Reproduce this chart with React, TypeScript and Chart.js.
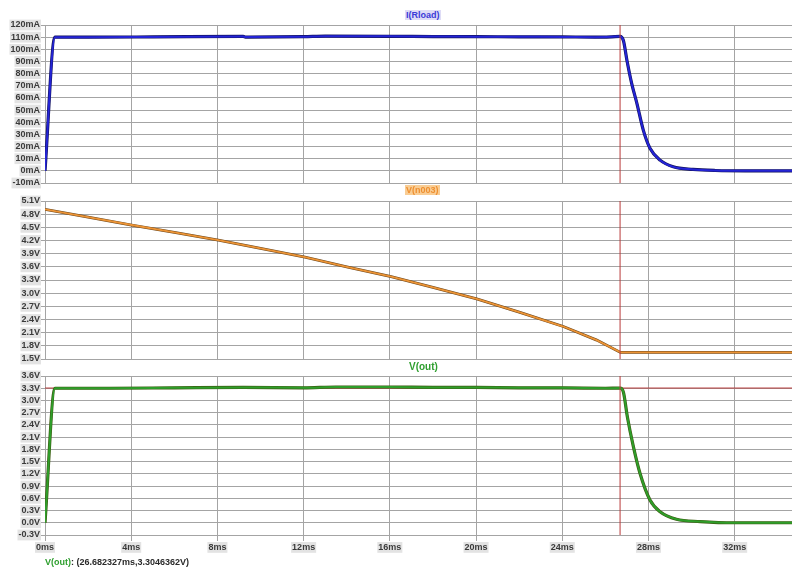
import React, { useEffect, useRef } from "react";
import { Chart, registerables } from "chart.js";
Chart.register(...registerables);

// ---------- data ----------
const X_MIN = 0;
const X_MAX = 34.66;
const X_STEP = 4;

const CURSOR_T = 26.682327;
const CURSOR_V = 3.3046362;

// I(Rload) in mA
const iTime = [0, 0.46, 2, 5, 9.2, 9.3, 12, 13, 16, 18, 20, 22, 24, 25.5, 26.3, 26.68, 26.84, 27.0, 27.22, 27.46, 27.76, 28.07, 28.54, 29.15, 30.07, 31.1, 32.5, 34.66];
const iRload = [0, 110, 110, 110.2, 110.6, 110.1, 110.4, 110.8, 110.7, 110.5, 110.4, 110.3, 110.2, 110, 110.3, 110.6, 107, 91, 72, 55.8, 33.5, 18.6, 8.8, 3.3, 1.2, 0.3, 0, 0];

// V(n003) in V
const n3Time = [0, 2, 4.02, 6, 8.04, 10, 12.06, 14, 16.06, 18, 20.03, 22, 24.05, 25.6, 26.7, 34.66];
const vN003 = [4.91, 4.73, 4.553, 4.385, 4.21, 4.02, 3.82, 3.6, 3.375, 3.13, 2.87, 2.57, 2.24, 1.93, 1.65, 1.65];

// V(out) in V
const outTime = [0, 0.46, 3, 6, 9.2, 12, 13.5, 16, 18, 20, 22, 24, 26, 26.68, 26.84, 27.02, 27.3, 27.61, 28.07, 28.54, 29.3, 30.4, 32, 34.66];
const vOut = [0, 3.3, 3.3, 3.31, 3.32, 3.31, 3.33, 3.33, 3.32, 3.32, 3.31, 3.31, 3.3, 3.305, 3.2, 2.6, 1.87, 1.21, 0.56, 0.27, 0.085, 0.03, 0, 0];

// axis ranges
const iAxis = { min: -10, max: 120, step: 10 };
const n3Axis = { min: 1.5, max: 5.1, step: 0.3 };
const outAxis = { min: -0.3, max: 3.6, step: 0.3 };

// ---------- styling ----------
const W = 792;
const H = 569;
const FONT = "'Liberation Sans', Arial, sans-serif";
const GRID = "#a4a4a4";
const LABEL_BG = "#e3e3e3";
const LABEL_COLOR = "#3a3a3a";
const CURSOR_COLOR = "#b83a3a";

const pts = (xs: number[], ys: number[]) => xs.map((x, i) => ({ x, y: ys[i] }));

function yScale(ax: { min: number; max: number; step: number }, fmt: (v: number) => string) {
  return {
    type: "linear" as const,
    min: ax.min,
    max: ax.max,
    afterFit: (s: any) => {
      s.width = 45;
    },
    grid: { color: GRID, lineWidth: 1, tickLength: 5, drawTicks: true },
    border: { display: true, color: GRID },
    ticks: {
      stepSize: ax.step,
      autoSkip: false,
      padding: 0,
      color: LABEL_COLOR,
      font: { family: FONT, size: 9, weight: "bold" as const },
      showLabelBackdrop: true,
      backdropColor: LABEL_BG,
      backdropPadding: { top: 0, bottom: 0, left: 1, right: 1 },
      callback: (v: any) => fmt(Number(v)),
    },
  };
}

function xScale(showLabels: boolean) {
  return {
    type: "linear" as const,
    min: X_MIN,
    max: X_MAX,
    afterFit: (s: any) => {
      s.height = showLabels ? 20 : 0;
    },
    grid: { color: GRID, lineWidth: 1, tickLength: 6, drawTicks: showLabels },
    border: { display: true, color: GRID },
    ticks: {
      display: showLabels,
      stepSize: X_STEP,
      includeBounds: false,
      autoSkip: false,
      maxRotation: 0,
      padding: 1,
      color: LABEL_COLOR,
      font: { family: FONT, size: 9, weight: "bold" as const },
      showLabelBackdrop: true,
      backdropColor: LABEL_BG,
      backdropPadding: { top: 0, bottom: 0, left: 1, right: 1 },
      callback: (v: any) => `${Math.round(Number(v))}ms`,
    },
  };
}

function line(data: any[], color: string, width: number, order: number, smooth = false) {
  return {
    data,
    borderColor: color,
    backgroundColor: color,
    borderWidth: width,
    pointRadius: 0,
    fill: false,
    order,
    cubicInterpolationMode: smooth ? ("monotone" as const) : ("default" as const),
    tension: 0,
  };
}

function makeConfig(datasets: any[], y: any, top: number, bottom: number, showX: boolean): any {
  return {
    type: "line",
    data: { datasets },
    options: {
      responsive: false,
      animation: false,
      events: [],
      layout: { padding: { top, bottom: H - bottom - (showX ? 20 : 0), left: 0, right: 0 } },
      plugins: { legend: { display: false }, tooltip: { enabled: false }, title: { display: false } },
      scales: { x: xScale(showX), y },
    },
  };
}

export default function App() {
  const r1 = useRef<HTMLCanvasElement>(null);
  const r2 = useRef<HTMLCanvasElement>(null);
  const r3 = useRef<HTMLCanvasElement>(null);

  useEffect(() => {
    Chart.defaults.font.family = FONT;
    const vCursor = (ax: { min: number; max: number }) => [
      { x: CURSOR_T, y: ax.min },
      { x: CURSOR_T, y: ax.max },
    ];

    const c1 = new Chart(
      r1.current!,
      makeConfig(
        [
          line(vCursor(iAxis), CURSOR_COLOR, 1, 0),
          line(pts(iTime, iRload), "#2424d6", 2, 1, true),
          line(pts(iTime, iRload), "#12125e", 3.2, 2, true),
        ],
        yScale(iAxis, (v) => `${Math.round(v)}mA`),
        25,
        183,
        false
      )
    );
    const c2 = new Chart(
      r2.current!,
      makeConfig(
        [
          line(vCursor(n3Axis), CURSOR_COLOR, 1, 0),
          line(pts(n3Time, vN003), "#ec9436", 1.8, 1),
          line(pts(n3Time, vN003), "#6a4418", 2.8, 2),
        ],
        yScale(n3Axis, (v) => `${v.toFixed(1)}V`),
        201,
        359,
        false
      )
    );
    const c3 = new Chart(
      r3.current!,
      makeConfig(
        [
          line(vCursor(outAxis), CURSOR_COLOR, 1, 0),
          line(
            [
              { x: X_MIN, y: CURSOR_V },
              { x: X_MAX, y: CURSOR_V },
            ],
            CURSOR_COLOR,
            1,
            3
          ),
          line(pts(outTime, vOut), "#2e9e2a", 2, 1, true),
          line(pts(outTime, vOut), "#3e5a12", 3.2, 2, true),
        ],
        yScale(outAxis, (v) => `${v.toFixed(1)}V`),
        376,
        535,
        true
      )
    );
    return () => {
      c1.destroy();
      c2.destroy();
      c3.destroy();
    };
  }, []);

  const canvasStyle: React.CSSProperties = { position: "absolute", left: 0, top: 0, width: W, height: H };
  const title = (extra: React.CSSProperties): React.CSSProperties => ({
    position: "absolute",
    fontFamily: FONT,
    fontWeight: "bold",
    fontSize: 9,
    lineHeight: "10px",
    whiteSpace: "nowrap",
    ...extra,
  });

  return (
    <div style={{ position: "fixed", left: 0, top: 0, width: W, height: H, background: "#ffffff", overflow: "hidden" }}>
      <canvas ref={r1} width={W} height={H} style={canvasStyle} />
      <canvas ref={r2} width={W} height={H} style={canvasStyle} />
      <canvas ref={r3} width={W} height={H} style={canvasStyle} />
      <div style={title({ left: 405, top: 10, color: "#3a3ad8", background: "#dedcf6", padding: "0 1px" })}>I(Rload)</div>
      <div style={title({ left: 405, top: 185, color: "#ee8f30", background: "#f9cd94", padding: "0 1px" })}>V(n003)</div>
      <div style={title({ left: 409, top: 362, color: "#2f9f2f", fontSize: 10 })}>V(out)</div>
      <div style={title({ left: 45, top: 557, color: "#2a2a2a" })}>
        <span style={{ color: "#2f9f2f" }}>V(out)</span>: (26.682327ms,3.3046362V)
      </div>
    </div>
  );
}
